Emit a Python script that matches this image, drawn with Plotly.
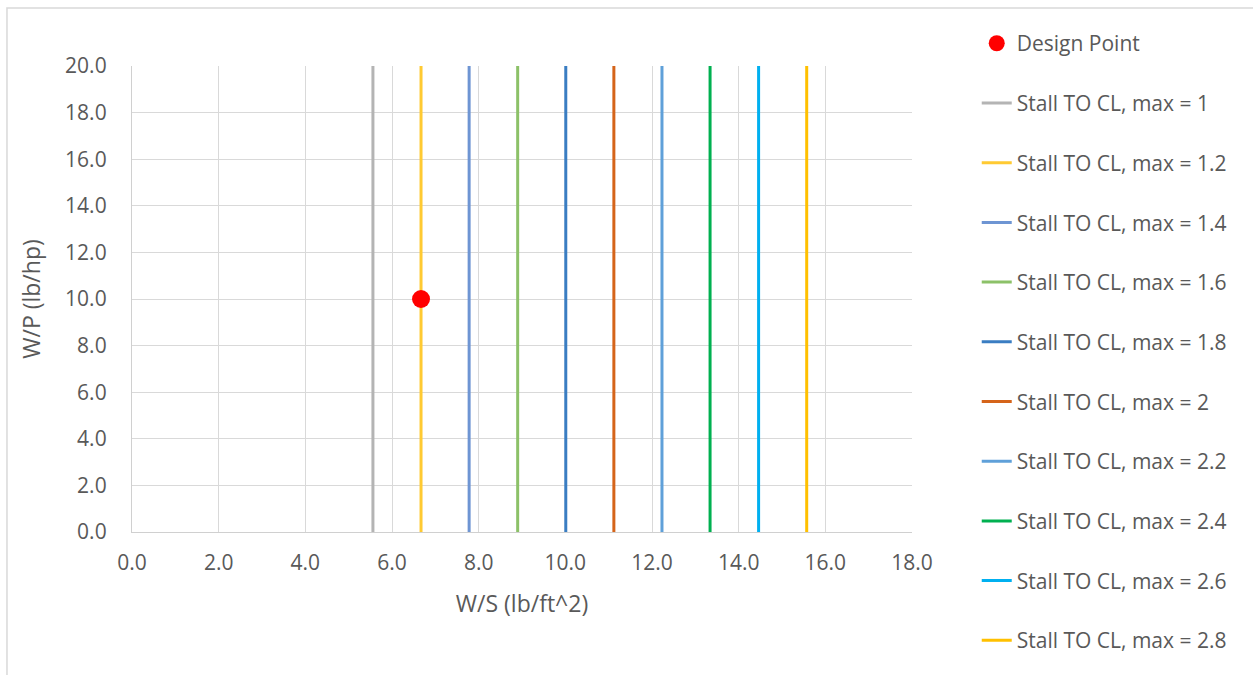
import plotly.graph_objects as go

# Stall constraint lines: wing loading at stall for each take-off CL,max
cl_max = [1, 1.2, 1.4, 1.6, 1.8, 2, 2.2, 2.4, 2.6, 2.8]
ws_stall = [5.56, 6.67, 7.78, 8.90, 10.01, 11.12, 12.23, 13.34, 14.46, 15.57]
line_colors = ["#B4B4B4", "#FFCA32", "#6E95D3", "#8CC168", "#3A7DC2",
               "#D5641A", "#5FA0D9", "#00B050", "#00B0F0", "#FFC000"]
wp_range = [0, 20]

# Design point
design_ws = [6.67]
design_wp = [10.0]

x_ticks = [0, 2, 4, 6, 8, 10, 12, 14, 16, 18]
y_ticks = [0, 2, 4, 6, 8, 10, 12, 14, 16, 18, 20]

FONT = "Open Sans"
TXT = "#595959"

fig = go.Figure()

for i, (cl, ws, col) in enumerate(zip(cl_max, ws_stall, line_colors)):
    fig.add_trace(go.Scatter(
        x=[ws, ws], y=wp_range, mode="lines",
        line=dict(color=col, width=3),
        name=f"Stall TO CL, max = {cl}",
        legendgroup=f"g{i + 1}", legendrank=i + 2,
    ))

fig.add_trace(go.Scatter(
    x=design_ws, y=design_wp, mode="markers",
    marker=dict(color="#FF0000", size=18),
    name="Design Point", legendgroup="g0", legendrank=1,
))

axis_common = dict(
    showgrid=True, gridcolor="#D9D9D9", gridwidth=1.3,
    showline=True, linecolor="#D0D0D0", linewidth=1.3,
    zeroline=False, ticks="outside", tickcolor="rgba(0,0,0,0)",
    tickfont=dict(family=FONT, size=21, color=TXT),
)

fig.update_xaxes(
    range=[0, 18], tickvals=x_ticks, tickformat=".1f", ticklen=12,
    title=dict(text="W/S (lb/ft^2)", font=dict(family=FONT, size=23, color=TXT),
               standoff=20),
    **axis_common,
)
fig.update_yaxes(
    range=[0, 20], tickvals=y_ticks, tickformat=".1f", ticklen=20,
    title=dict(text="W/P (lb/hp)", font=dict(family=FONT, size=23, color=TXT),
               standoff=18),
    **axis_common,
)

# Chart-area border
fig.add_shape(type="rect", xref="paper", yref="paper",
              x0=-0.1603, x1=1.45, y0=-0.32, y1=1.1245,
              line=dict(color="#D9D9D9", width=1.5), fillcolor="rgba(0,0,0,0)",
              layer="below")

fig.update_layout(
    width=1253, height=675,
    margin=dict(l=132, r=341, t=66, b=143),
    paper_bgcolor="white", plot_bgcolor="white",
    font=dict(family=FONT, color=TXT),
    showlegend=True,
    legend=dict(
        x=1.083, xanchor="left", y=1.092, yanchor="top",
        font=dict(family=FONT, size=21, color=TXT),
        tracegroupgap=29.4, traceorder="grouped", maxheight=670,
        bgcolor="rgba(0,0,0,0)",
    ),
)

fig.write_html("out.html")
